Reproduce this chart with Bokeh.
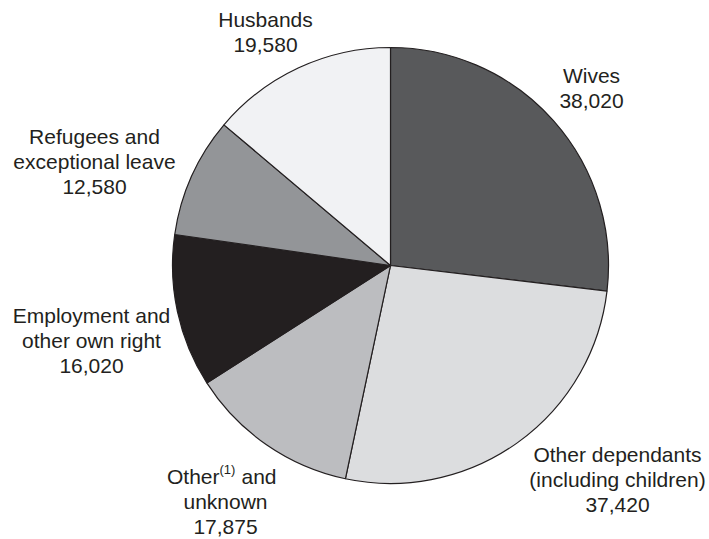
import math
from bokeh.plotting import figure
from bokeh.models import ColumnDataSource, Range1d
from bokeh.core.properties import value
from bokeh.embed import file_html
from bokeh.resources import INLINE

# ---- data ----
categories = ["Wives", "Other dependants (including children)", "Other and unknown",
              "Employment and other own right", "Refugees and exceptional leave", "Husbands"]
counts = [38020, 37420, 17875, 16020, 12580, 19580]
colors = ["#58595b", "#dcdddf", "#bcbdc0", "#231f20", "#939598", "#f1f2f4"]

# label lines (value line appended from counts)
label_lines = [
    ["Wives"],
    ["Other dependants", "(including children)"],
    [None, "unknown"],          # first line built with superscript
    ["Employment and", "other own right"],
    ["Refugees and", "exceptional leave"],
    ["Husbands"],
]
# label anchor positions (page pixels: center x, first baseline y)
label_pos = [(591, 83), (617, 462), (225, 484), (91, 323), (94, 144), (265, 27)]

W, H = 709, 539
LINE = 25
TEXT_SHIFT = 8
FONT = "Liberation Sans"
TXT = "#231f20"

def dx(px):
    return px

def dy(py):
    return H - py

def ty_(py):
    return H - (py - TEXT_SHIFT)

total = sum(counts)
starts, ends = [], []
cum = 0.0
for c in counts:
    starts.append(math.pi / 2 - 2 * math.pi * cum / total)
    cum += c
    ends.append(math.pi / 2 - 2 * math.pi * cum / total)

src = ColumnDataSource(dict(start=starts, end=ends, color=colors, cat=categories))

p = figure(width=W, height=H, x_range=Range1d(0, W), y_range=Range1d(0, H),
           x_axis_type=None, y_axis_type=None, toolbar_location=None,
           output_backend="svg", min_border=0, outline_line_color=None,
           background_fill_color="white", border_fill_color="white")
p.xgrid.visible = False
p.ygrid.visible = False

cx, cy, r = dx(390), dy(265), 218
p.wedge(x=cx, y=cy, radius=r, start_angle="start", end_angle="end", direction="clock",
        fill_color="color", line_color="#231f20", line_width=1.2, source=src)

tx, ty, tt = [], [], []
for lines, (lx, ly), c in zip(label_lines, label_pos, counts):
    allines = lines + [f"{c:,}"]
    for i, ln in enumerate(allines):
        if ln is None:
            continue
        tx.append(dx(lx))
        ty.append(ty_(ly + i * LINE))
        tt.append(ln)

p.text(x=tx, y=ty, text=tt, text_align="center", text_baseline="alphabetic",
       text_font=value(FONT), text_font_size="21px", text_color=TXT)

# "Other(1) and" line with superscript
ox, oy = 219, 484
p.text(x=[dx(ox)], y=[ty_(oy)], text=["Other"], text_align="right", text_baseline="alphabetic",
       text_font=value(FONT), text_font_size="21px", text_color=TXT)
p.text(x=[dx(ox)], y=[ty_(oy - 7)], text=["(1)"], text_align="left", text_baseline="alphabetic",
       text_font=value(FONT), text_font_size="13px", text_color=TXT)
p.text(x=[dx(ox + 22)], y=[ty_(oy)], text=["and"], text_align="left", text_baseline="alphabetic",
       text_font=value(FONT), text_font_size="21px", text_color=TXT)

open("out.html", "w").write(file_html(p, INLINE))
